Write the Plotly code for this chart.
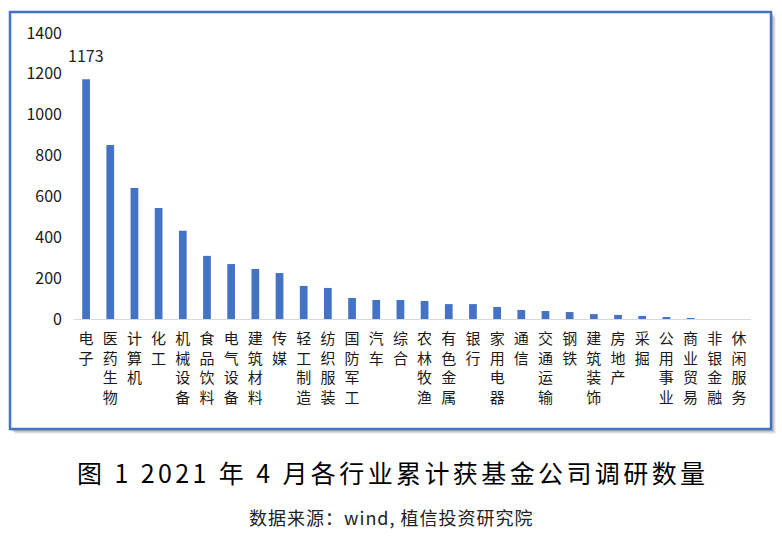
import plotly.graph_objects as go

categories = ["电子", "医药生物", "计算机", "化工", "机械设备", "食品饮料", "电气设备",
              "建筑材料", "传媒", "轻工制造", "纺织服装", "国防军工", "汽车", "综合",
              "农林牧渔", "有色金属", "银行", "家用电器", "通信", "交通运输", "钢铁",
              "建筑装饰", "房地产", "采掘", "公用事业", "商业贸易", "非银金融", "休闲服务"]
values = [1173, 852, 641, 543, 432, 309, 269, 245, 225, 162, 152, 103, 93, 93,
          88, 73, 73, 59, 44, 39, 34, 24, 20, 15, 5, 4, 0, 0]
y_ticks = [0, 200, 400, 600, 800, 1000, 1200, 1400]
title_text = "图 1 2021 年 4 月各行业累计获基金公司调研数量"
source_text = "数据来源：wind, 植信投资研究院"

W, H = 782, 541
L, R, T, B = 74, 31, 33, 222
pw, ph = W - L - R, H - T - B

def px_x(x):
    return (x - L) / pw

def px_y(y):
    return (H - B - y) / ph

FONT = "Noto Sans CJK SC, Noto Sans, sans-serif"
ticktext = ["<br>".join(list(c)) for c in categories]

fig = go.Figure()
fig.add_trace(go.Bar(x=categories, y=values, marker_color="#4472C4",
                     marker_line_width=0, hoverinfo="x+y"))

shapes = []
for off, op in [(5, 0.10), (4, 0.16), (3, 0.22), (2, 0.28)]:
    shapes.append(dict(type="rect", xref="paper", yref="paper", layer="below",
                       x0=px_x(10 + off), x1=px_x(771 + off),
                       y0=px_y(429 + off), y1=px_y(12 + off),
                       fillcolor=f"rgba(120,120,120,{op})", line_width=0))
shapes.append(dict(type="rect", xref="paper", yref="paper", layer="below",
                   x0=px_x(10), x1=px_x(771), y0=px_y(429), y1=px_y(12),
                   fillcolor="white", line=dict(color="#4472C4", width=2.5)))

annotations = [
    dict(x=categories[0], y=values[0], text=str(values[0]), showarrow=False,
         yanchor="bottom", yshift=10, font=dict(size=16, color="#262626", family=FONT)),
    dict(xref="paper", yref="paper", x=px_x(392), y=px_y(472),
         text=f'<span style="letter-spacing:3.4px">{title_text}</span>',
         showarrow=False, xanchor="center", yanchor="middle",
         font=dict(size=25, color="#000000", family=FONT)),
    dict(xref="paper", yref="paper", x=px_x(391), y=px_y(517),
         text=f'<span style="letter-spacing:1px">{source_text}</span>',
         showarrow=False, xanchor="center", yanchor="middle",
         font=dict(size=18, color="#222222", family=FONT)),
]

fig.update_layout(
    width=W, height=H,
    margin=dict(l=L, r=R, t=T, b=B, autoexpand=False),
    paper_bgcolor="white", plot_bgcolor="rgba(0,0,0,0)",
    bargap=0.68, showlegend=False,
    shapes=shapes, annotations=annotations,
    font=dict(family=FONT, color="#262626"),
    xaxis=dict(tickmode="array", tickvals=categories, ticktext=ticktext,
               range=[-0.5, len(categories) - 0.5], autorange=False,
               tickangle=0, showline=True, linecolor="#D9D9D9", linewidth=1,
               showgrid=False, ticks="", tickfont=dict(size=15, color="#1a1a1a"),
               ticklabelstandoff=6),
    yaxis=dict(range=[0, 1400], tickmode="array", tickvals=y_ticks,
               showgrid=False, zeroline=False, showline=False, ticks="",
               tickfont=dict(size=16, color="#1a1a1a"), ticklabelstandoff=11),
)

fig.write_html("out.html", config={"displayModeBar": False},
               post_script="document.body.style.margin='0';document.body.style.overflow='hidden';")
